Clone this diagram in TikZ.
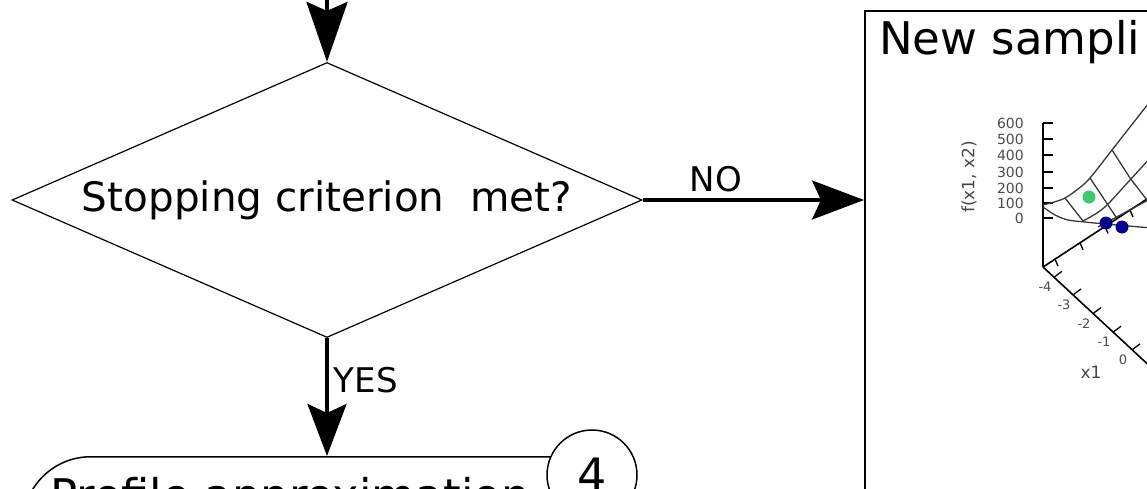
\documentclass[tikz,border=0pt]{standalone}
\usepackage{fontspec}
\setmainfont{DejaVu Sans}
\usetikzlibrary{shapes.geometric,arrows.meta}
\definecolor{ptgreen}{RGB}{61,201,115}
\definecolor{ptblue}{RGB}{0,0,139}
\newcommand{\bigfont}{\fontsize{40.5}{48}\selectfont}
\newcommand{\largefont}{\fontsize{45}{54}\selectfont}
\newcommand{\lblfont}{\fontsize{34}{40}\selectfont}
\begin{document}
\begin{tikzpicture}[x=1pt,y=-1pt,
  flow/.style={line width=3.5pt,-{Stealth[length=52pt,width=39pt,inset=9pt]}},
  lbl/.style={font=\lblfont,inner sep=0pt},
  decision/.style={diamond,draw,line width=1.2pt,aspect=2.3,minimum width=630pt,minimum height=275pt,inner sep=0pt,font=\bigfont},
  roundbox/.style={draw,line width=1.5pt,rounded corners=68pt,inner sep=0pt},
  numcircle/.style={circle,draw,fill=white,line width=1.5pt,minimum size=90pt,inner sep=0pt,font=\fontsize{46}{54}\selectfont},
  panel/.style={draw,line width=1.5pt,inner sep=0pt},
  mesh/.style={draw=black!78,line width=1.3pt},
  axisline/.style={line width=1.6pt},
  tickmark/.style={line width=1.3pt},
  ticklbl/.style={font=\fontsize{14}{15}\selectfont,text=black!70,inner sep=0pt},
  axlbl/.style={font=\fontsize{17}{20}\selectfont,text=black!72,inner sep=0pt},
]
\useasboundingbox (0,0) rectangle (1147,488);
\clip (0,0) rectangle (1147,488);

% decision
\node[decision] (dec) at (327,200) {Stopping criterion~ met?};
\coordinate (topin) at (327,-10);
\draw[line width=3.5pt,-{Stealth[length=60pt,width=41pt,inset=9pt]}] (topin) -- (dec.north);

% right panel
\node[panel,anchor=north west,minimum width=400pt,minimum height=600pt] (newbox) at (864,10) {};
\node[font=\largefont,anchor=base west,inner sep=0pt] (title) at (879,54) {New sampli};

% NO arrow
\draw[flow] (dec.east) -- (dec.east -| newbox.west) node[lbl,pos=0.33,above=6pt] {NO};

% bottom box
\node[roundbox,anchor=north west,minimum width=620pt,minimum height=160pt] (prof) at (22,456) {};
\node[font=\largefont,anchor=base west,inner sep=0pt] (proftext) at (50,511) {Profile approximation};
\node[numcircle] (four) at (592,475) {4};

% YES arrow
\draw[flow] (dec.south) -- (dec.south |- prof.north) node[lbl,pos=0.36,right=5pt] {YES};

% ---- small 3D plot ----
\draw[axisline] (1043,123) -- (1043,267);
\foreach \y/\l in {123/600,139/500,155/400,172/300,188/200,203/100,218/0}{
  \draw[tickmark] (1043,\y) -- (1053,\y);
  \node[ticklbl,anchor=east] at (1024,\y) {\l};
}
\node[axlbl,rotate=90] at (969,177) {f(x1, x2)};

\draw[axisline] (1043,267) -- (1155,371);
\foreach \x/\l in {1054/-4,1073/-3,1093/-2,1113/-1,1132/0}{
  \pgfmathsetmacro{\yy}{267+(\x-1043)*0.931}
  \draw[tickmark] (\x,\yy) -- ++(8,-6);
  \node[ticklbl,font=\fontsize{13}{14}\selectfont] at (\x-9,\yy+10) {\l};
}
\node[axlbl] at (1091,372) {x1};

\draw[axisline] (1043,267) -- (1150,197);
\foreach \x in {1055,1080,1105,1130}{
  \pgfmathsetmacro{\yy}{267-(\x-1043)*0.655}
  \draw[tickmark] (\x,\yy) -- ++(3,7);
}

% surface mesh
\draw[mesh] plot[smooth] coordinates {(1043,205) (1063,199) (1078,189) (1090,178) (1112,150) (1130,127) (1152,99)};
\draw[mesh] plot[smooth] coordinates {(1043,207) (1055,215) (1068,220) (1085,222) (1105,224) (1152,228)};
\draw[mesh] plot[smooth] coordinates {(1083,221) (1097,213) (1108,204) (1130,180) (1152,156)};
\draw[mesh] (1065,198) -- (1083,221);
\draw[mesh] (1090,178) -- (1108,205) -- (1116,217);
\draw[mesh] (1112,150) -- (1130,178) -- (1150,204);
\draw[mesh] (1098,227) -- (1150,199);

\fill[ptgreen] (1089,197) circle (6.5);
\fill[ptblue] (1106,223) circle (6.5);
\fill[ptblue] (1122,227) circle (6.5);
\end{tikzpicture}
\end{document}
